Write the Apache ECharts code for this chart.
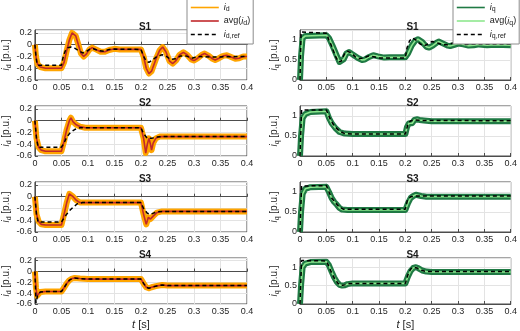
<!DOCTYPE html>
<html>
<head>
<meta charset="utf-8">
<script src="https://cdn.jsdelivr.net/npm/echarts@6/dist/echarts.min.js"></script>
<style>
html, body { margin: 0; padding: 0; background: #fff; }
#chart { width: 520px; height: 331px; }
</style>
</head>
<body>
<div id="chart"></div>
<script>
// panel titles and tick labels
var titles = ['S1', 'S2', 'S3', 'S4'];
var xTicks = [0, 0.05, 0.1, 0.15, 0.2, 0.25, 0.3, 0.35, 0.4];
var idTicks = [-0.6, -0.4, -0.2, 0, 0.2];
var iqTicks = [0, 0.5, 1];

// [t, value]: avg(i_d) and i_d,ref
var s1IdAvg = [[0,0],[0.002,-0.2],[0.005,-0.33],[0.01,-0.38],[0.02,-0.4],[0.05,-0.4],[0.055,-0.3],[0.06,-0.1],[0.065,0.08],[0.07,0.2],[0.073,0.22],[0.077,0.15],[0.082,0],[0.087,-0.15],[0.092,-0.2],[0.097,-0.16],[0.103,-0.08],[0.108,-0.05],[0.115,-0.08],[0.124,-0.12],[0.132,-0.12],[0.14,-0.09],[0.15,-0.07],[0.16,-0.08],[0.2,-0.08],[0.205,-0.2],[0.21,-0.4],[0.215,-0.49],[0.22,-0.45],[0.228,-0.25],[0.235,-0.1],[0.241,-0.04],[0.247,-0.12],[0.254,-0.28],[0.26,-0.32],[0.266,-0.27],[0.273,-0.17],[0.28,-0.13],[0.287,-0.17],[0.295,-0.25],[0.3,-0.27],[0.307,-0.23],[0.315,-0.17],[0.32,-0.15],[0.328,-0.19],[0.335,-0.24],[0.34,-0.26],[0.347,-0.23],[0.355,-0.19],[0.362,-0.18],[0.37,-0.21],[0.378,-0.24],[0.385,-0.23],[0.393,-0.2],[0.4,-0.2]];
var s1IdRef = [[0,0],[0.002,-0.2],[0.004,-0.33],[0.008,-0.35],[0.05,-0.35],[0.053,-0.22],[0.057,-0.11],[0.062,-0.05],[0.068,-0.04],[0.075,-0.06],[0.082,-0.1],[0.09,-0.14],[0.096,-0.12],[0.103,-0.08],[0.11,-0.07],[0.12,-0.1],[0.13,-0.11],[0.14,-0.08],[0.15,-0.075],[0.2,-0.08],[0.205,-0.2],[0.21,-0.28],[0.215,-0.3],[0.222,-0.26],[0.23,-0.2],[0.24,-0.17],[0.248,-0.2],[0.256,-0.25],[0.265,-0.24],[0.275,-0.19],[0.285,-0.19],[0.295,-0.23],[0.31,-0.2],[0.33,-0.21],[0.4,-0.2]];
var s2IdAvg = [[0,0],[0.003,-0.3],[0.007,-0.45],[0.012,-0.5],[0.02,-0.52],[0.05,-0.52],[0.055,-0.35],[0.06,-0.15],[0.065,0],[0.068,0.05],[0.072,-0.02],[0.078,-0.07],[0.085,-0.1],[0.095,-0.12],[0.2,-0.12],[0.205,-0.3],[0.209,-0.55],[0.212,-0.4],[0.215,-0.3],[0.218,-0.4],[0.22,-0.5],[0.223,-0.38],[0.228,-0.3],[0.235,-0.27],[0.4,-0.27]];
var s2IdRef = [[0,0],[0.003,-0.3],[0.006,-0.45],[0.05,-0.45],[0.055,-0.38],[0.06,-0.28],[0.067,-0.2],[0.075,-0.15],[0.085,-0.12],[0.2,-0.12],[0.205,-0.22],[0.212,-0.3],[0.22,-0.3],[0.228,-0.28],[0.24,-0.27],[0.4,-0.27]];
var s3IdAvg = [[0,0],[0.003,-0.3],[0.007,-0.42],[0.012,-0.47],[0.02,-0.48],[0.05,-0.48],[0.055,-0.3],[0.06,-0.1],[0.065,0.05],[0.067,0.07],[0.072,0],[0.078,-0.06],[0.085,-0.1],[0.2,-0.1],[0.205,-0.3],[0.21,-0.47],[0.214,-0.35],[0.218,-0.38],[0.223,-0.33],[0.23,-0.27],[0.24,-0.25],[0.4,-0.25]];
var s3IdRef = [[0,0],[0.003,-0.3],[0.006,-0.43],[0.05,-0.43],[0.058,-0.32],[0.065,-0.24],[0.072,-0.18],[0.08,-0.12],[0.09,-0.1],[0.2,-0.1],[0.205,-0.2],[0.212,-0.28],[0.218,-0.3],[0.226,-0.27],[0.235,-0.25],[0.4,-0.25]];
var s4IdAvg = [[0,0],[0.002,-0.3],[0.004,-0.45],[0.006,-0.42],[0.01,-0.38],[0.02,-0.37],[0.05,-0.37],[0.055,-0.3],[0.06,-0.22],[0.065,-0.16],[0.07,-0.13],[0.075,-0.12],[0.085,-0.13],[0.1,-0.14],[0.2,-0.14],[0.205,-0.22],[0.21,-0.29],[0.215,-0.31],[0.22,-0.29],[0.228,-0.27],[0.24,-0.25],[0.25,-0.26],[0.4,-0.26]];
var s4IdRef = [[0,0],[0.002,-0.58],[0.005,-0.45],[0.01,-0.38],[0.02,-0.37],[0.05,-0.37],[0.055,-0.3],[0.06,-0.22],[0.065,-0.16],[0.07,-0.13],[0.075,-0.12],[0.085,-0.13],[0.1,-0.14],[0.2,-0.14],[0.205,-0.22],[0.21,-0.29],[0.215,-0.31],[0.22,-0.29],[0.228,-0.27],[0.24,-0.25],[0.25,-0.26],[0.4,-0.26]];

// [t, value]: avg(i_q) and i_q,ref
var s1IqAvg = [[0,0],[0.002,0.6],[0.005,1.05],[0.01,1.1],[0.05,1.12],[0.055,1.05],[0.062,0.85],[0.07,0.6],[0.075,0.45],[0.078,0.4],[0.083,0.52],[0.088,0.66],[0.093,0.7],[0.1,0.64],[0.11,0.55],[0.118,0.5],[0.123,0.51],[0.13,0.57],[0.139,0.62],[0.148,0.59],[0.16,0.56],[0.17,0.57],[0.2,0.57],[0.205,0.66],[0.212,0.86],[0.219,0.99],[0.224,1.02],[0.232,0.95],[0.24,0.83],[0.245,0.81],[0.252,0.86],[0.259,0.93],[0.264,0.96],[0.272,0.91],[0.28,0.86],[0.285,0.85],[0.293,0.88],[0.3,0.91],[0.31,0.89],[0.32,0.86],[0.33,0.87],[0.34,0.89],[0.355,0.87],[0.37,0.88],[0.4,0.87]];
var s1IqRef = [[0,0],[0.002,1.2],[0.05,1.17],[0.055,1.0],[0.06,0.85],[0.067,0.6],[0.073,0.45],[0.078,0.47],[0.084,0.64],[0.09,0.72],[0.097,0.68],[0.105,0.58],[0.112,0.53],[0.12,0.55],[0.13,0.6],[0.14,0.58],[0.15,0.55],[0.2,0.55],[0.203,0.8],[0.208,0.98],[0.213,1.05],[0.22,1.0],[0.228,0.9],[0.235,0.85],[0.243,0.9],[0.25,0.96],[0.258,0.94],[0.27,0.88],[0.28,0.88],[0.29,0.92],[0.3,0.92],[0.315,0.89],[0.33,0.9],[0.4,0.9]];
var s2IqAvg = [[0,0],[0.002,0.5],[0.005,0.95],[0.01,1.05],[0.02,1.1],[0.05,1.12],[0.055,0.95],[0.06,0.82],[0.067,0.7],[0.075,0.6],[0.085,0.56],[0.1,0.55],[0.2,0.55],[0.203,0.72],[0.207,0.82],[0.21,0.85],[0.213,0.82],[0.217,0.9],[0.22,0.95],[0.223,0.92],[0.227,0.9],[0.235,0.89],[0.25,0.87],[0.4,0.87]];
var s2IqRef = [[0,0],[0.003,1.15],[0.05,1.15],[0.058,0.9],[0.065,0.75],[0.075,0.62],[0.085,0.56],[0.1,0.55],[0.2,0.55],[0.205,0.8],[0.21,0.88],[0.22,0.9],[0.23,0.89],[0.4,0.88]];
var s3IqAvg = [[0,0],[0.002,0.5],[0.005,0.95],[0.01,1.08],[0.02,1.12],[0.05,1.13],[0.055,1.0],[0.06,0.85],[0.065,0.75],[0.07,0.68],[0.075,0.6],[0.08,0.56],[0.09,0.55],[0.2,0.55],[0.205,0.72],[0.21,0.85],[0.215,0.9],[0.22,0.93],[0.23,0.9],[0.24,0.88],[0.4,0.88]];
var s3IqRef = [[0,0],[0.003,1.15],[0.05,1.16],[0.055,1.0],[0.06,0.85],[0.068,0.72],[0.075,0.62],[0.082,0.57],[0.2,0.57],[0.204,0.8],[0.21,0.88],[0.22,0.9],[0.4,0.9]];
var s4IqAvg = [[0,0],[0.002,0.5],[0.005,1.0],[0.01,1.1],[0.02,1.14],[0.05,1.15],[0.055,1.05],[0.06,0.88],[0.065,0.72],[0.07,0.6],[0.075,0.52],[0.08,0.5],[0.085,0.51],[0.09,0.54],[0.1,0.56],[0.2,0.56],[0.205,0.75],[0.21,0.9],[0.215,0.98],[0.22,1.0],[0.225,0.97],[0.232,0.91],[0.24,0.88],[0.25,0.87],[0.4,0.87]];
var s4IqRef = [[0,0],[0.003,1.18],[0.05,1.17],[0.055,1.02],[0.06,0.85],[0.066,0.68],[0.072,0.56],[0.078,0.5],[0.085,0.52],[0.092,0.55],[0.1,0.56],[0.2,0.56],[0.205,0.8],[0.21,0.95],[0.215,1.0],[0.222,0.98],[0.23,0.92],[0.24,0.88],[0.4,0.88]];

var idAvg = [s1IdAvg, s2IdAvg, s3IdAvg, s4IdAvg];
var idRef = [s1IdRef, s2IdRef, s3IdRef, s4IdRef];
var iqAvg = [s1IqAvg, s2IqAvg, s3IqAvg, s4IqAvg];
var iqRef = [s1IqRef, s2IqRef, s3IqRef, s4IqRef];

var chart = echarts.init(document.getElementById('chart'), null, { renderer: 'canvas' });

var rowTop = [30, 106, 182, 258];
var plotH = 50;
var sub = {
  i: { fontStyle: 'italic', fontSize: 10, lineHeight: 13, verticalAlign: 'middle' },
  s: { fontSize: 7, lineHeight: 13, verticalAlign: 'bottom' }
};
var axisColor = '#4d4d4d';
var bandColor = ['#ffa500', '#1f7a44'];
var avgColor = ['#c0282b', '#8ee88e'];

var grids = [], xAxes = [], yAxes = [], series = [], titleList = [];

function addPanel(col, row) {
  var idx = grids.length;
  var isD = col === 0;
  var left = isD ? 33 : 300;
  var width = isD ? 214 : 215;
  grids.push({ left: left, top: rowTop[row], width: width, height: plotH, show: true,
    borderColor: axisColor, borderWidth: 1, backgroundColor: '#fff' });
  titleList.push({ text: titles[row], left: left + width / 2, top: rowTop[row] - 13, textAlign: 'center',
    textStyle: { fontSize: 10, fontWeight: 'bold', color: '#1a1a1a' } });
  xAxes.push({
    type: 'value', gridIndex: idx, min: 0, max: 0.4, interval: 0.05,
    name: row === 3 ? '{i|t} [s]' : '', nameLocation: 'middle', nameGap: 15,
    nameTextStyle: { fontSize: 11, color: '#262626', rich: { i: { fontStyle: 'italic', fontSize: 11 } } },
    axisLine: { lineStyle: { color: axisColor } },
    axisTick: { inside: true, length: 3, lineStyle: { color: axisColor } },
    axisLabel: { fontSize: 9, color: '#262626', margin: 3,
      formatter: function (v) { return xTicks.indexOf(+v.toFixed(2)) >= 0 ? String(+v.toFixed(2)) : ''; } },
    splitLine: { lineStyle: { color: '#e3e3e3', width: 1 } }
  });
  yAxes.push({
    type: 'value', gridIndex: idx,
    min: isD ? -0.6 : 0, max: isD ? 0.25 : 1.25, interval: isD ? 0.2 : 0.5,
    name: isD ? '{i|i}{s|d} [p.u.]' : '{i|i}{s|q} [p.u.]',
    nameLocation: 'middle', nameRotate: 90, nameGap: isD ? 18 : 18,
    nameTextStyle: { fontSize: 10, color: '#262626', rich: sub },
    axisLine: { lineStyle: { color: axisColor } },
    axisTick: { inside: true, length: 3, lineStyle: { color: axisColor } },
    axisLabel: { fontSize: 9, color: '#262626', margin: 3, showMaxLabel: false,
      formatter: function (v) {
        var t = isD ? idTicks : iqTicks;
        var r = +v.toFixed(2);
        return t.indexOf(r) >= 0 ? String(r) : '';
      } },
    splitLine: { lineStyle: { color: '#e3e3e3', width: 1 } }
  });
  var avg = isD ? idAvg[row] : iqAvg[row];
  var ref = isD ? idRef[row] : iqRef[row];
  var base = { type: 'line', xAxisIndex: idx, yAxisIndex: idx, symbol: 'none', showSymbol: false,
    animation: false, silent: true };
  series.push(Object.assign({}, base, { name: isD ? 'id' : 'iq', data: avg,
    lineStyle: { color: bandColor[col], width: 6, join: 'round' },
    itemStyle: { color: bandColor[col] } }));
  series.push(Object.assign({}, base, { name: isD ? 'id_avg' : 'iq_avg', data: avg,
    lineStyle: { color: avgColor[col], width: 1.6 },
    itemStyle: { color: avgColor[col] } }));
  series.push(Object.assign({}, base, { name: isD ? 'id_ref' : 'iq_ref', data: ref,
    lineStyle: { color: '#000', width: 1.5, type: [4, 3] },
    itemStyle: { color: '#000' } }));
}

for (var r = 0; r < 4; r++) { addPanel(0, r); addPanel(1, r); }

var legendText = {
  id: '{i|i}{s|d}', id_avg: 'avg({i|i}{s|d})', id_ref: '{i|i}{s|d,ref}',
  iq: '{i|i}{s|q}', iq_avg: 'avg({i|i}{s|q})', iq_ref: '{i|i}{s|q,ref}'
};
var hideDot = { opacity: 0 };
function makeLegend(names, left) {
  return {
    left: left, top: -1, orient: 'vertical', itemWidth: 28, itemHeight: 8, itemGap: 3.5,
    padding: [4, 3, 4, 3], backgroundColor: '#fff', borderColor: '#8c8c8c', borderWidth: 1,
    selectedMode: false,
    data: [
      { name: names[0], lineStyle: { width: 1.6 }, itemStyle: hideDot },
      { name: names[1], lineStyle: { width: 1.6 }, itemStyle: hideDot },
      { name: names[2], lineStyle: { width: 1.3 }, itemStyle: hideDot }
    ],
    formatter: function (n) { return legendText[n]; },
    textStyle: { fontSize: 9, color: '#1a1a1a', padding: [0, 0, 0, 0],
      rich: { i: { fontStyle: 'italic', fontSize: 9, lineHeight: 11, verticalAlign: 'middle' },
              s: { fontSize: 7, lineHeight: 11, verticalAlign: 'bottom' } } }
  };
}

chart.setOption({
  animation: false,
  textStyle: { fontFamily: 'Liberation Sans, Arial, sans-serif' },
  title: titleList,
  grid: grids,
  xAxis: xAxes,
  yAxis: yAxes,
  legend: [makeLegend(['id', 'id_avg', 'id_ref'], 187), makeLegend(['iq', 'iq_avg', 'iq_ref'], 453)],
  series: series
});
</script>
</body>
</html>
